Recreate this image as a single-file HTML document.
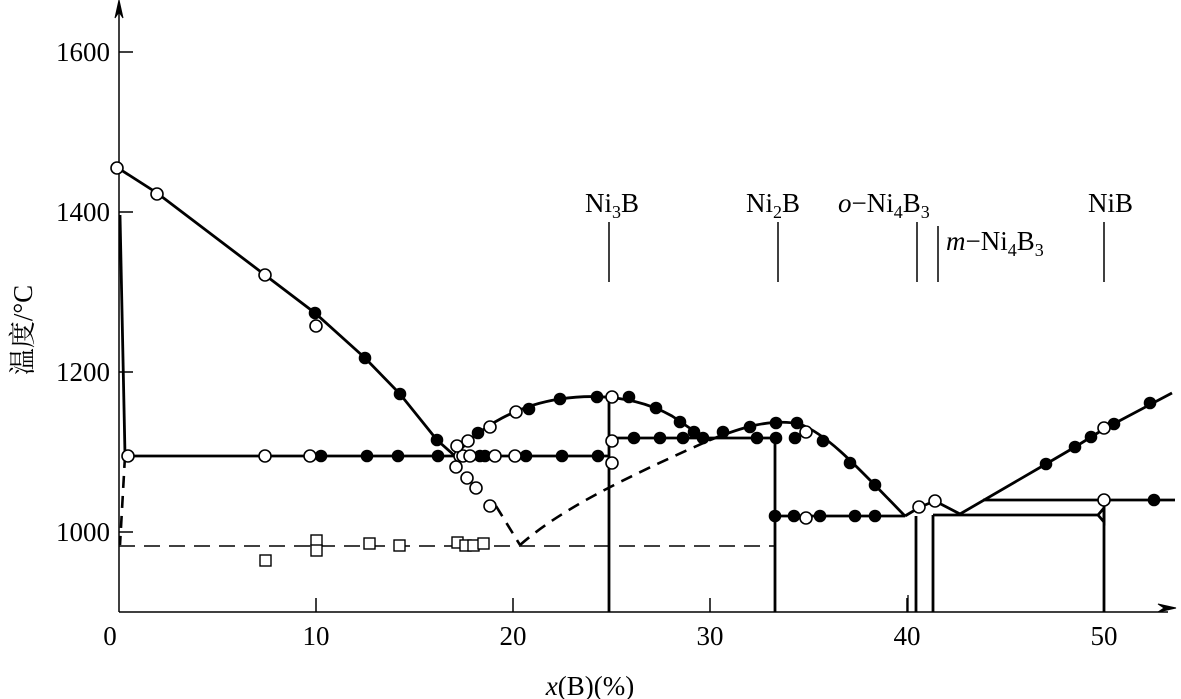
<!DOCTYPE html>
<html><head><meta charset="utf-8"><style>body{margin:0;background:#fff}svg{display:block}</style></head><body>
<svg width="1181" height="699" viewBox="0 0 1181 699" xmlns="http://www.w3.org/2000/svg" font-family="'Liberation Serif','Noto Serif CJK SC',serif">
<g stroke="#000" fill="none">
<line x1="119" y1="5" x2="119" y2="612" stroke-width="1.5"/>
<line x1="119" y1="612" x2="1168" y2="612" stroke-width="1.5"/>
<polygon points="119,0 115,18 119,12 123,18" fill="#000"/>
<polygon points="1176,608 1158,604 1164,608 1158,612" fill="#000"/>
<g stroke-width="1.5">
<line x1="119" y1="52" x2="133" y2="52"/><line x1="119" y1="212" x2="133" y2="212"/><line x1="119" y1="372" x2="133" y2="372"/><line x1="119" y1="532" x2="133" y2="532"/>
<line x1="316" y1="612" x2="316" y2="598"/><line x1="513" y1="612" x2="513" y2="598"/><line x1="710" y1="612" x2="710" y2="598"/><line x1="907" y1="612" x2="907" y2="598"/><line x1="1104" y1="612" x2="1104" y2="598"/>
<line x1="609" y1="222" x2="609" y2="282"/><line x1="778" y1="222" x2="778" y2="282"/><line x1="917" y1="222" x2="917" y2="282"/><line x1="938" y1="226" x2="938" y2="282"/><line x1="1104" y1="222" x2="1104" y2="282"/>
</g>
<g stroke-width="2.8">
<polyline points="118,168 157,193 265,275 315,313 365,358 400,394 437,440 455,456"/>
<polyline points="120,215 125,455"/>
<line x1="125" y1="456" x2="609" y2="456"/>
<path d="M455,456 C480,425 520,405 560,399 C600,393 640,398 672,416 C690,428 700,436 710,440 C740,428 770,418 800,424 C830,436 860,470 905,516"/>
<line x1="609" y1="438" x2="775" y2="438"/>
<line x1="609" y1="397" x2="609" y2="612"/>
<line x1="775" y1="438" x2="775" y2="612"/>
<line x1="775" y1="516" x2="905" y2="516"/>
<polyline points="905,516 920,507 935,501 960,514 1046,464 1075,447 1104,429 1172,393"/>
<line x1="916" y1="516" x2="916" y2="612"/>
<line x1="933" y1="515" x2="933" y2="612"/>
<line x1="933" y1="515" x2="1098" y2="515"/>
<line x1="983" y1="500" x2="1175" y2="500"/>
<line x1="1104" y1="500" x2="1104" y2="612"/>
<polyline points="1098,515 1104,508 1104,522 1098,515"/>
</g>
<line x1="908" y1="595" x2="908" y2="612" stroke-width="1.3"/>
<g stroke-width="2.6" stroke-dasharray="12,8">
<line x1="125" y1="456" x2="120" y2="545"/>
<polyline points="496,506 520,545"/>
<path d="M520,545 C560,510 620,480 710,440"/>
</g>
<line x1="119" y1="546" x2="775" y2="546" stroke-width="1.4" stroke-dasharray="16,9"/>
</g>
<g stroke="#000" stroke-width="1.6" fill="#000">
<circle cx="315" cy="313" r="5.5"/><circle cx="365" cy="358" r="5.5"/><circle cx="400" cy="394" r="5.5"/><circle cx="437" cy="440" r="5.5"/>
<circle cx="321" cy="456" r="5.5"/><circle cx="367" cy="456" r="5.5"/><circle cx="398" cy="456" r="5.5"/><circle cx="438" cy="456" r="5.5"/><circle cx="480" cy="456" r="5.5"/><circle cx="485" cy="456" r="5.5"/><circle cx="526" cy="456" r="5.5"/><circle cx="562" cy="456" r="5.5"/><circle cx="598" cy="456" r="5.5"/>
<circle cx="478" cy="433" r="5.5"/><circle cx="529" cy="409" r="5.5"/><circle cx="560" cy="399" r="5.5"/><circle cx="597" cy="397" r="5.5"/><circle cx="629" cy="397" r="5.5"/><circle cx="656" cy="408" r="5.5"/><circle cx="680" cy="422" r="5.5"/><circle cx="694" cy="432" r="5.5"/>
<circle cx="634" cy="438" r="5.5"/><circle cx="660" cy="438" r="5.5"/><circle cx="683" cy="438" r="5.5"/><circle cx="703" cy="438" r="5.5"/><circle cx="723" cy="432" r="5.5"/><circle cx="750" cy="427" r="5.5"/><circle cx="776" cy="423" r="5.5"/><circle cx="797" cy="423" r="5.5"/><circle cx="757" cy="438" r="5.5"/><circle cx="776" cy="438" r="5.5"/><circle cx="795" cy="438" r="5.5"/>
<circle cx="823" cy="441" r="5.5"/><circle cx="850" cy="463" r="5.5"/><circle cx="875" cy="485" r="5.5"/>
<circle cx="775" cy="516" r="5.5"/><circle cx="794" cy="516" r="5.5"/><circle cx="820" cy="516" r="5.5"/><circle cx="855" cy="516" r="5.5"/><circle cx="875" cy="516" r="5.5"/>
<circle cx="1046" cy="464" r="5.5"/><circle cx="1075" cy="447" r="5.5"/><circle cx="1091" cy="437" r="5.5"/><circle cx="1114" cy="424" r="5.5"/><circle cx="1150" cy="403" r="5.5"/><circle cx="1154" cy="500" r="5.5"/>
</g>
<g stroke="#000" stroke-width="1.6" fill="#fff">
<circle cx="117" cy="168" r="6"/><circle cx="157" cy="194" r="6"/><circle cx="265" cy="275" r="6"/><circle cx="316" cy="326" r="6"/>
<circle cx="128" cy="456" r="6"/><circle cx="265" cy="456" r="6"/><circle cx="310" cy="456" r="6"/><circle cx="460" cy="456" r="6"/><circle cx="463" cy="456" r="6"/><circle cx="470" cy="456" r="6"/><circle cx="495" cy="456" r="6"/><circle cx="515" cy="456" r="6"/>
<circle cx="457" cy="446" r="6"/><circle cx="468" cy="441" r="6"/><circle cx="490" cy="427" r="6"/><circle cx="516" cy="412" r="6"/><circle cx="612" cy="397" r="6"/><circle cx="612" cy="441" r="6"/><circle cx="612" cy="463" r="6"/>
<circle cx="456" cy="467" r="6"/><circle cx="467" cy="478" r="6"/><circle cx="476" cy="488" r="6"/><circle cx="490" cy="506" r="6"/>
<circle cx="806" cy="432" r="6"/><circle cx="806" cy="518" r="6"/><circle cx="919" cy="507" r="6"/><circle cx="935" cy="501" r="6"/><circle cx="1104" cy="428" r="6"/><circle cx="1104" cy="500" r="6"/>
</g>
<g stroke="#000" stroke-width="1.4" fill="#fff">
<rect x="260" y="555" width="11" height="11"/><rect x="311" y="535" width="11" height="11"/><rect x="311" y="545" width="11" height="11"/><rect x="364" y="538" width="11" height="11"/><rect x="394" y="540" width="11" height="11"/><rect x="452" y="537" width="11" height="11"/><rect x="460" y="540" width="11" height="11"/><rect x="468" y="540" width="11" height="11"/><rect x="478" y="538" width="11" height="11"/>
</g>
<g font-size="27" fill="#000" text-anchor="end">
<text x="110" y="61">1600</text><text x="110" y="221">1400</text><text x="110" y="381">1200</text><text x="110" y="541">1000</text>
</g>
<g font-size="27" fill="#000" text-anchor="middle">
<text x="110" y="645">0</text><text x="316" y="645">10</text><text x="513" y="645">20</text><text x="710" y="645">30</text><text x="907" y="645">40</text><text x="1104" y="645">50</text>
<text x="590" y="695"><tspan font-style="italic">x</tspan>(B)(%)</text>
</g>
<text transform="translate(32,330) rotate(-90)" font-size="27" text-anchor="middle" fill="#000">温度/°C</text>
<g font-size="27" fill="#000" font-family="'Liberation Serif',serif">
<text x="585" y="212">Ni<tspan font-size="18" dy="6">3</tspan><tspan dy="-6">B</tspan></text>
<text x="746" y="212">Ni<tspan font-size="18" dy="6">2</tspan><tspan dy="-6">B</tspan></text>
<text x="838" y="212"><tspan font-style="italic">o</tspan>−Ni<tspan font-size="18" dy="6">4</tspan><tspan dy="-6">B</tspan><tspan font-size="18" dy="6">3</tspan></text>
<text x="946" y="250"><tspan font-style="italic">m</tspan>−Ni<tspan font-size="18" dy="6">4</tspan><tspan dy="-6">B</tspan><tspan font-size="18" dy="6">3</tspan></text>
<text x="1088" y="212">NiB</text>
</g>
</svg>
</body></html>
